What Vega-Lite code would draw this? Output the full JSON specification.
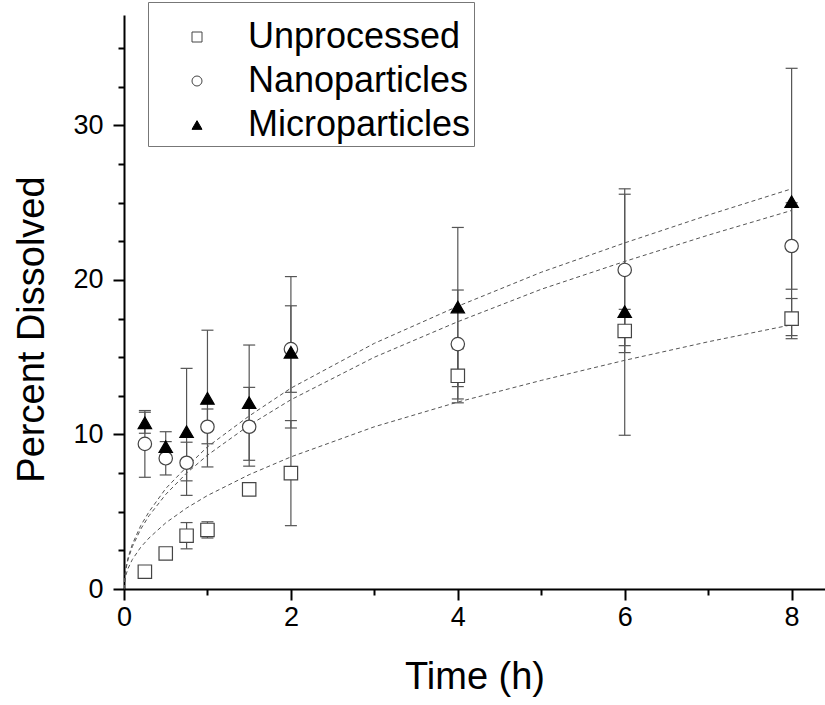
{
  "$schema": "https://vega.github.io/schema/vega-lite/v6.json",
  "width": 701,
  "height": 574,
  "autosize": "none",
  "padding": {"left": 124, "top": 15, "right": 0, "bottom": 116},
  "background": "white",
  "config": {
    "view": {"stroke": null},
    "font": "Liberation Sans",
    "axis": {
      "domainColor": "black",
      "domainWidth": 2,
      "tickColor": "black",
      "tickWidth": 2,
      "grid": false,
      "labelFont": "Liberation Sans",
      "labelFontSize": 27,
      "labelColor": "black",
      "titleFont": "Liberation Sans",
      "titleFontSize": 38,
      "titleFontWeight": "normal",
      "titleColor": "black",
      "labelFlush": false,
      "labelOverlap": false
    }
  },
  "datasets": {
    "obs": [
      {"t": 0.25, "series": "Unprocessed", "value": 1.12, "lo": 0.85, "hi": 1.4},
      {"t": 0.5, "series": "Unprocessed", "value": 2.3, "lo": 2.3, "hi": 2.3},
      {"t": 0.75, "series": "Unprocessed", "value": 3.45, "lo": 2.6, "hi": 4.3},
      {"t": 1, "series": "Unprocessed", "value": 3.82, "lo": 3.3, "hi": 4.35},
      {"t": 1.5, "series": "Unprocessed", "value": 6.45, "lo": 6.1, "hi": 6.8},
      {"t": 2, "series": "Unprocessed", "value": 7.5, "lo": 4.1, "hi": 10.9},
      {"t": 4, "series": "Unprocessed", "value": 13.8, "lo": 12.05, "hi": 15.55},
      {"t": 6, "series": "Unprocessed", "value": 16.7, "lo": 15.3, "hi": 18.1},
      {"t": 8, "series": "Unprocessed", "value": 17.5, "lo": 16.2, "hi": 18.8},
      {"t": 0.25, "series": "Nanoparticles", "value": 9.39, "lo": 7.23, "hi": 11.55},
      {"t": 0.5, "series": "Nanoparticles", "value": 8.46, "lo": 7.38, "hi": 9.54},
      {"t": 0.75, "series": "Nanoparticles", "value": 8.17, "lo": 7.0, "hi": 9.5},
      {"t": 1, "series": "Nanoparticles", "value": 10.5, "lo": 9.4, "hi": 11.65},
      {"t": 1.5, "series": "Nanoparticles", "value": 10.5, "lo": 7.95, "hi": 13.05},
      {"t": 2, "series": "Nanoparticles", "value": 15.53, "lo": 12.73, "hi": 18.33},
      {"t": 4, "series": "Nanoparticles", "value": 15.85, "lo": 12.3, "hi": 19.35},
      {"t": 6, "series": "Nanoparticles", "value": 20.65, "lo": 15.75, "hi": 25.55},
      {"t": 8, "series": "Nanoparticles", "value": 22.2, "lo": 19.4, "hi": 25.0},
      {"t": 0.25, "series": "Microparticles", "value": 10.76, "lo": 10.08, "hi": 11.44},
      {"t": 0.5, "series": "Microparticles", "value": 9.21, "lo": 8.24, "hi": 10.18},
      {"t": 0.75, "series": "Microparticles", "value": 10.18, "lo": 6.06, "hi": 14.28},
      {"t": 1, "series": "Microparticles", "value": 12.34, "lo": 7.9, "hi": 16.75},
      {"t": 1.5, "series": "Microparticles", "value": 12.06, "lo": 8.33, "hi": 15.79},
      {"t": 2, "series": "Microparticles", "value": 15.32, "lo": 10.42, "hi": 20.22},
      {"t": 4, "series": "Microparticles", "value": 18.25, "lo": 13.1, "hi": 23.4},
      {"t": 6, "series": "Microparticles", "value": 17.95, "lo": 9.95, "hi": 25.9},
      {"t": 8, "series": "Microparticles", "value": 25.07, "lo": 16.4, "hi": 33.7}
    ],
    "fit": [
      {"t": 0, "curve": "Unprocessed", "value": 0},
      {"t": 0.02, "curve": "Unprocessed", "value": 0.86},
      {"t": 0.05, "curve": "Unprocessed", "value": 1.35},
      {"t": 0.1, "curve": "Unprocessed", "value": 1.91},
      {"t": 0.2, "curve": "Unprocessed", "value": 2.7},
      {"t": 0.3, "curve": "Unprocessed", "value": 3.3},
      {"t": 0.5, "curve": "Unprocessed", "value": 4.28},
      {"t": 0.75, "curve": "Unprocessed", "value": 5.24},
      {"t": 1, "curve": "Unprocessed", "value": 6.05},
      {"t": 1.5, "curve": "Unprocessed", "value": 7.4},
      {"t": 2, "curve": "Unprocessed", "value": 8.55},
      {"t": 3, "curve": "Unprocessed", "value": 10.5},
      {"t": 4, "curve": "Unprocessed", "value": 12.1},
      {"t": 5, "curve": "Unprocessed", "value": 13.5},
      {"t": 6, "curve": "Unprocessed", "value": 14.8},
      {"t": 7, "curve": "Unprocessed", "value": 16.0},
      {"t": 8, "curve": "Unprocessed", "value": 17.1},
      {"t": 0, "curve": "Nanoparticles", "value": 0},
      {"t": 0.02, "curve": "Nanoparticles", "value": 1.22},
      {"t": 0.05, "curve": "Nanoparticles", "value": 1.94},
      {"t": 0.1, "curve": "Nanoparticles", "value": 2.74},
      {"t": 0.2, "curve": "Nanoparticles", "value": 3.87},
      {"t": 0.3, "curve": "Nanoparticles", "value": 4.74},
      {"t": 0.5, "curve": "Nanoparticles", "value": 6.12},
      {"t": 0.75, "curve": "Nanoparticles", "value": 7.5},
      {"t": 1, "curve": "Nanoparticles", "value": 8.66},
      {"t": 1.5, "curve": "Nanoparticles", "value": 10.6},
      {"t": 2, "curve": "Nanoparticles", "value": 12.25},
      {"t": 3, "curve": "Nanoparticles", "value": 15.0},
      {"t": 4, "curve": "Nanoparticles", "value": 17.3},
      {"t": 5, "curve": "Nanoparticles", "value": 19.4},
      {"t": 6, "curve": "Nanoparticles", "value": 21.2},
      {"t": 7, "curve": "Nanoparticles", "value": 22.9},
      {"t": 8, "curve": "Nanoparticles", "value": 24.5},
      {"t": 0, "curve": "Microparticles", "value": 0},
      {"t": 0.02, "curve": "Microparticles", "value": 1.3},
      {"t": 0.05, "curve": "Microparticles", "value": 2.05},
      {"t": 0.1, "curve": "Microparticles", "value": 2.9},
      {"t": 0.2, "curve": "Microparticles", "value": 4.1},
      {"t": 0.3, "curve": "Microparticles", "value": 5.0},
      {"t": 0.5, "curve": "Microparticles", "value": 6.5},
      {"t": 0.75, "curve": "Microparticles", "value": 7.9},
      {"t": 1, "curve": "Microparticles", "value": 9.2},
      {"t": 1.5, "curve": "Microparticles", "value": 11.2},
      {"t": 2, "curve": "Microparticles", "value": 13.0},
      {"t": 3, "curve": "Microparticles", "value": 15.9},
      {"t": 4, "curve": "Microparticles", "value": 18.3},
      {"t": 5, "curve": "Microparticles", "value": 20.5},
      {"t": 6, "curve": "Microparticles", "value": 22.4},
      {"t": 7, "curve": "Microparticles", "value": 24.2},
      {"t": 8, "curve": "Microparticles", "value": 25.9}
    ]
  },
  "encoding": {
    "x": {
      "field": "t",
      "type": "quantitative",
      "scale": {"domain": [0, 8.4], "nice": false, "zero": false},
      "axis": {
        "title": "Time (h)",
        "values": [0, 1, 2, 3, 4, 5, 6, 7, 8],
        "labelExpr": "datum.value % 2 === 0 ? datum.label : ''",
        "tickSize": {"condition": {"test": "datum.value % 2 === 0", "value": 11}, "value": 6},
        "labelPadding": 4,
        "titlePadding": 28
      }
    },
    "y": {
      "field": "value",
      "type": "quantitative",
      "scale": {"domain": [0, 37.15], "nice": false, "zero": false},
      "axis": {
        "title": "Percent Dissolved",
        "values": [0, 2.5, 5, 7.5, 10, 12.5, 15, 17.5, 20, 22.5, 25, 27.5, 30, 32.5, 35],
        "labelExpr": "datum.value % 10 === 0 ? datum.label : ''",
        "tickSize": {"condition": {"test": "datum.value % 10 === 0", "value": 11}, "value": 6},
        "labelPadding": 10,
        "titlePadding": 21,
        "titleY": 314
      }
    }
  },
  "layer": [
    {
      "data": {"name": "fit"},
      "mark": {"type": "line", "strokeDash": [4, 3], "strokeWidth": 1, "color": "#555555", "clip": true},
      "encoding": {"detail": {"field": "curve", "type": "nominal"}}
    },
    {
      "data": {"name": "obs"},
      "mark": {"type": "rule", "color": "#555555", "strokeWidth": 1.2},
      "encoding": {
        "y": {"field": "lo", "type": "quantitative"},
        "y2": {"field": "hi"}
      }
    },
    {
      "data": {"name": "obs"},
      "mark": {"type": "point", "shape": "M-1,0L1,0", "size": 144, "stroke": "#555555", "strokeWidth": 1.2, "filled": false, "opacity": 1},
      "encoding": {"y": {"field": "lo", "type": "quantitative"}}
    },
    {
      "data": {"name": "obs"},
      "mark": {"type": "point", "shape": "M-1,0L1,0", "size": 144, "stroke": "#555555", "strokeWidth": 1.2, "filled": false, "opacity": 1},
      "encoding": {"y": {"field": "hi", "type": "quantitative"}}
    },
    {
      "data": {"name": "obs"},
      "mark": {"type": "point", "size": 180, "strokeWidth": 1.2, "opacity": 1},
      "encoding": {
        "shape": {
          "field": "series", "type": "nominal",
          "scale": {"domain": ["Unprocessed", "Nanoparticles", "Microparticles"], "range": ["square", "circle", "triangle-up"]},
          "legend": {
            "title": " ",
            "titleFontSize": 10,
            "titlePadding": 4,
            "orient": "none",
            "legendX": 24,
            "legendY": -13,
            "padding": 3,
            "strokeColor": "#777777",
            "fillColor": "white",
            "labelFont": "Liberation Sans",
            "labelFontSize": 36,
            "labelColor": "black",
            "labelLimit": 400,
            "symbolSize": 100,
            "symbolStrokeWidth": 1,
            "symbolOffset": 28,
            "labelOffset": 33,
            "rowPadding": 8
          }
        },
        "fill": {
          "field": "series", "type": "nominal",
          "scale": {"domain": ["Unprocessed", "Nanoparticles", "Microparticles"], "range": ["white", "white", "black"]}
        },
        "stroke": {
          "field": "series", "type": "nominal",
          "scale": {"domain": ["Unprocessed", "Nanoparticles", "Microparticles"], "range": ["#444444", "#444444", "black"]}
        }
      }
    }
  ]
}
